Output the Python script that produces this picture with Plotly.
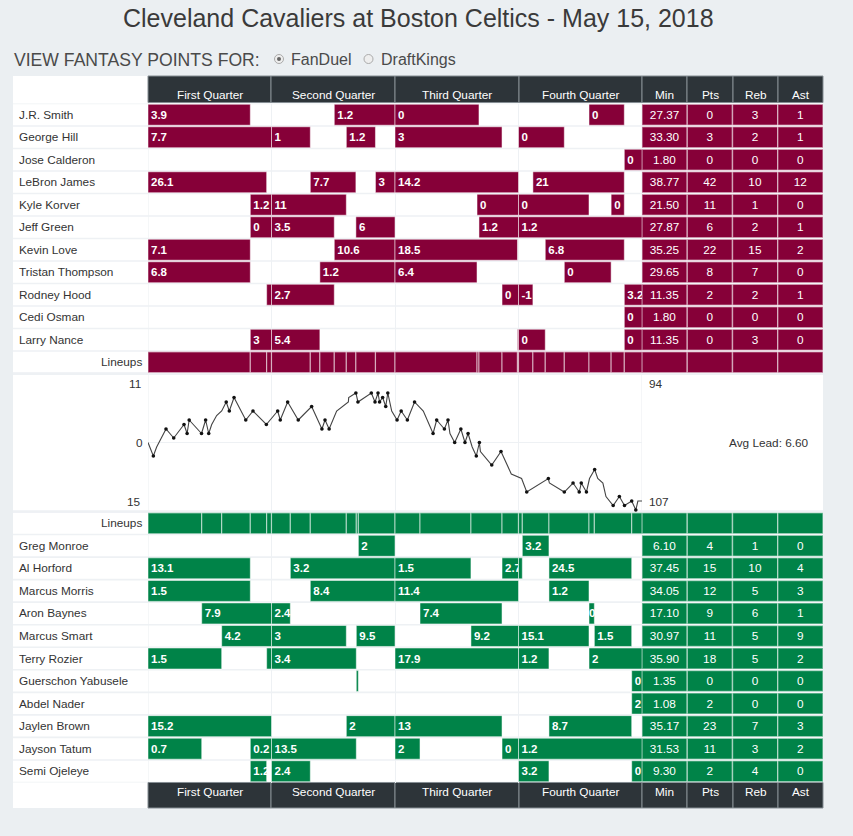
import plotly.graph_objects as go

# ---------------- data ----------------
title = "Cleveland Cavaliers at Boston Celtics - May 15, 2018"
quarters = ["First Quarter", "Second Quarter", "Third Quarter", "Fourth Quarter"]
stat_cols = ["Min", "Pts", "Reb", "Ast"]

cavs_names = ["J.R. Smith", "George Hill", "Jose Calderon", "LeBron James", "Kyle Korver",
              "Jeff Green", "Kevin Love", "Tristan Thompson", "Rodney Hood", "Cedi Osman",
              "Larry Nance"]
# (start minute, end minute, fantasy points label)
cavs_stints = [
    [(0, 9.94, "3.9"), (18.10, 24, "1.2"), (24, 32.16, "0"), (42.85, 46.28, "0")],
    [(0, 12, "7.7"), (12, 15.77, "1"), (19.27, 22.10, "1.2"), (24, 34.40, "3"), (36, 40.45, "0")],
    [(46.28, 48, "0")],
    [(0, 11.53, "26.1"), (15.77, 20.20, "7.7"), (22.10, 24, "3"), (24, 36, "14.2"), (37.40, 46.28, "21")],
    [(9.94, 12, "1.2"), (12, 19.27, "11"), (31.97, 36, "0"), (36, 42.85, "0"), (45.00, 46.28, "0")],
    [(9.94, 12, "0"), (12, 18.10, "3.5"), (20.20, 24, "6"), (32.16, 36, "1.2"), (36, 48, "1.2")],
    [(0, 9.94, "7.1"), (18.10, 24, "10.6"), (24, 35.90, "18.5"), (38.60, 46.28, "6.8")],
    [(0, 9.94, "6.8"), (16.70, 24, "1.2"), (24, 31.97, "6.4"), (40.45, 45.00, "0")],
    [(11.53, 12, ""), (12, 18.10, "2.7"), (34.40, 36, "0"), (36, 37.40, "-1"), (46.28, 48, "3.2")],
    [(46.28, 48, "0")],
    [(9.94, 12, "3"), (12, 16.70, "5.4"), (35.90, 36, ""), (36, 38.60, "0"), (46.28, 48, "0")],
]
cavs_min = [27.37, 33.30, 1.80, 38.77, 21.50, 27.87, 35.25, 29.65, 11.35, 1.80, 11.35]
cavs_pts = [0, 3, 0, 42, 11, 6, 22, 8, 2, 0, 0]
cavs_reb = [3, 2, 0, 10, 1, 2, 15, 7, 2, 0, 3]
cavs_ast = [1, 1, 0, 12, 0, 1, 2, 0, 1, 0, 0]

celtics_names = ["Greg Monroe", "Al Horford", "Marcus Morris", "Aron Baynes", "Marcus Smart",
                 "Terry Rozier", "Guerschon Yabusele", "Abdel Nader", "Jaylen Brown",
                 "Jayson Tatum", "Semi Ojeleye"]
celtics_stints = [
    [(20.44, 24, "2"), (36.37, 38.96, "3.2")],
    [(0, 9.94, "13.1"), (13.83, 24, "3.2"), (24, 31.38, "1.5"), (34.40, 36, "2.7"), (36, 36.37, ""), (38.96, 47.00, "24.5")],
    [(0, 9.94, "1.5"), (15.77, 24, "8.4"), (24, 36, "11.4"), (38.96, 42.85, "1.2")],
    [(5.22, 12, "7.9"), (12, 13.83, "2.4"), (26.43, 34.40, "7.4"), (42.85, 43.37, "0")],
    [(7.16, 12, "4.2"), (12, 19.27, "3"), (20.24, 24, "9.5"), (31.38, 36, "9.2"), (36, 42.85, "15.1"), (43.37, 47.00, "1.5")],
    [(0, 7.16, "1.5"), (11.53, 12, ""), (12, 20.24, "3.4"), (24, 36, "17.9"), (36, 38.96, "1.2"), (42.85, 48, "2")],
    [(20.24, 20.44, ""), (47.00, 48, "0")],
    [(47.00, 48, "2")],
    [(0, 12, "15.2"), (19.27, 24, "2"), (24, 34.40, "13"), (38.96, 47.00, "8.7")],
    [(0, 5.22, "0.7"), (9.94, 12, "0.2"), (12, 20.24, "13.5"), (24, 26.43, "2"), (34.40, 36, "0"), (36, 48, "1.2")],
    [(9.94, 11.53, "1.2"), (12, 15.77, "2.4"), (36, 38.96, "3.2"), (47.00, 48, "0")],
]
celtics_min = [6.10, 37.45, 34.05, 17.10, 30.97, 35.90, 1.35, 1.08, 35.17, 31.53, 9.30]
celtics_pts = [4, 15, 12, 9, 11, 18, 0, 2, 23, 11, 2]
celtics_reb = [1, 10, 5, 6, 5, 5, 0, 0, 7, 3, 4]
celtics_ast = [0, 4, 3, 1, 9, 2, 0, 0, 3, 2, 0]

# Cavaliers lead over the game (minutes, lead, scoring dot shown)
lead_min = [0, 0.52, 0.84, 1.26, 1.75, 2.5, 3.5, 3.8, 4.0, 5.2, 5.6, 5.9, 6.19, 6.67, 7.16, 7.6, 7.9,
            8.36, 9.5, 10.2, 11.5, 12.6, 12.85, 13.57, 14.6, 15.9, 16.9, 17.2, 17.6, 18.33, 19.47,
            19.5, 20.2, 20.4, 21.7, 22.06, 22.35, 22.5, 22.8, 23.1, 23.3, 23.68, 24.2, 24.6, 25.2,
            25.9, 26.75, 27.7, 28.05, 28.8, 29.15, 29.34, 29.8, 30.4, 30.8, 31.1, 31.5, 31.9, 32.2,
            32.3, 33.4, 34.3, 35.3, 36.3, 36.8, 38.9, 39.0, 40.45, 41.3, 41.9, 42.1, 42.6, 42.9,
            43.4, 43.7, 44.2, 44.5, 45.2, 45.8, 46.3, 47.0, 47.4, 47.6, 48.0]
lead_val = [0, -3, -1, 1, 3, 1, 4, 2, 5, 2, 5, 2, 4, 6, 7, 9, 7,
            10, 5, 7, 4, 7, 5, 9, 5, 8, 3, 5, 3, 7, 9,
            10, 11, 9, 11, 9, 11, 9, 10, 8, 11, 7, 5, 7, 5,
            9, 7, 2, 5, 3, 5, 2, 0, 3, 0, 2, -1, -3, 0,
            -2, -5, -2, -7, -8, -11, -8, -9, -11, -9, -11, -9, -11, -8,
            -6, -8, -9, -12, -14, -12, -14, -13, -15, -13, -13]
lead_dot = [0, 1, 0, 0, 1, 1, 1, 1, 1, 1, 1, 1, 0, 0, 0, 1, 1,
            1, 1, 1, 1, 1, 1, 1, 1, 1, 1, 1, 1, 0, 0,
            0, 1, 1, 1, 1, 1, 1, 1, 1, 1, 0, 1, 1, 1,
            1, 0, 1, 1, 1, 1, 0, 1, 1, 1, 1, 0, 1, 1,
            0, 1, 1, 0, 0, 1, 1, 0, 1, 1, 1, 1, 1, 0,
            1, 0, 0, 0, 1, 1, 1, 1, 1, 0, 0]
cavs_score = 94
celtics_score = 107
avg_lead = 6.60

# ---------------- style ----------------
W, H = 853, 836
MAROON = "#860038"
GREEN = "#008348"
HEAD = "#2d3439"
HEAD_LINE = "#858d93"
SEP = "#eef1f4"
PAGE = "#ebeff2"
TXT = "#333333"
FONT = "Liberation Sans, Arial, sans-serif"
EDGE = "rgba(255,255,255,0.5)"


def PX(x):
    return x / W


def PY(y):
    return 1 - y / H


traces = []


def team_traces(stints, stats, row_of_player, lineup_row, color, yax):
    ys, base, length, text = [], [], [], []
    bounds = set()
    for i, st in enumerate(stints):
        for s, e, lab in st:
            ys.append(row_of_player(i))
            base.append(s)
            length.append(e - s)
            text.append(lab)
            bounds.add(s)
            bounds.add(e)
    common = dict(orientation="h", width=0.93, textposition="inside", textangle=0,
                  constraintext="none", hoverinfo="skip", cliponaxis=True, showlegend=False)
    traces.append(go.Bar(y=ys, x=length, base=base, text=text, insidetextanchor="start",
                         insidetextfont=dict(color="white", size=11.5, family=FONT, weight="bold"),
                         marker=dict(color=color, line=dict(color=EDGE, width=1)),
                         xaxis="x", yaxis=yax, **common))
    b = sorted(bounds)
    traces.append(go.Bar(y=[lineup_row] * (len(b) - 1), x=[b[k + 1] - b[k] for k in range(len(b) - 1)],
                         base=b[:-1], marker=dict(color=color, line=dict(color=EDGE, width=1.2)),
                         xaxis="x", yaxis=yax, **common))
    sy, sb, sx, stx = [], [], [], []
    mins, pts, reb, ast = stats
    for i in range(len(mins)):
        vals = [f"{mins[i]:.2f}", str(pts[i]), str(reb[i]), str(ast[i])]
        for c, v in enumerate(vals):
            sy.append(row_of_player(i)); sb.append(c); sx.append(1); stx.append(v)
    for c in range(4):
        sy.append(lineup_row); sb.append(c); sx.append(1); stx.append("")
    traces.append(go.Bar(y=sy, x=sx, base=sb, text=stx, insidetextanchor="middle",
                         insidetextfont=dict(color="white", size=11.8, family=FONT),
                         marker=dict(color=color, line=dict(color="rgba(255,255,255,0.45)", width=1.5)),
                         xaxis="x2", yaxis=yax, **common))


team_traces(cavs_stints, (cavs_min, cavs_pts, cavs_reb, cavs_ast), lambda i: i, 11, MAROON, "y")
team_traces(celtics_stints, (celtics_min, celtics_pts, celtics_reb, celtics_ast), lambda i: i + 1, 0, GREEN, "y3")

traces.append(go.Scatter(x=lead_min, y=lead_val, mode="lines", line=dict(color="#444444", width=1.1),
                         xaxis="x", yaxis="y2", hoverinfo="skip", showlegend=False))
traces.append(go.Scatter(x=[m for m, d in zip(lead_min, lead_dot) if d],
                         y=[v for v, d in zip(lead_val, lead_dot) if d],
                         mode="markers", marker=dict(color="#111111", size=3.6),
                         xaxis="x", yaxis="y2", hoverinfo="skip", showlegend=False, cliponaxis=False))

fig = go.Figure(traces)

shapes = []
annotations = []
# white panel
shapes.append(dict(type="rect", xref="paper", yref="paper", x0=PX(13), x1=PX(823), y0=PY(808), y1=PY(76),
                   fillcolor="white", line=dict(width=0), layer="below"))
# row separators
for yax in ["y", "y3"]:
    for k in range(13):
        shapes.append(dict(type="line", xref="paper", yref=yax, x0=PX(13), x1=PX(823), y0=k - 0.5, y1=k - 0.5,
                           line=dict(color=SEP, width=1.6), layer="below"))
for y0, y1 in [(372.3, 375), (510.3, 512.8)]:
    shapes.append(dict(type="rect", xref="paper", yref="paper", x0=PX(13), x1=PX(823), y0=PY(y1), y1=PY(y0),
                       fillcolor=SEP, line=dict(width=0), layer="below"))
# vertical edges of the game-time area
for xv in [0, 48]:
    shapes.append(dict(type="line", xref="x", yref="paper", x0=xv, x1=xv, y0=PY(782.5), y1=PY(103),
                       line=dict(color=SEP, width=1.2), layer="below"))

# header cells (top and bottom)
cells = [(148, 271), (271, 395), (395, 519), (519, 642), (642, 687), (687, 733), (733, 778), (778, 823)]
labels = quarters + stat_cols
for top, bot, text_y in [(76, 102.5, 94.5), (782.5, 808, 791.8)]:
    for (a, b), lab in zip(cells, labels):
        shapes.append(dict(type="rect", xref="paper", yref="paper", x0=PX(a), x1=PX(b), y0=PY(bot), y1=PY(top),
                           fillcolor=HEAD, line=dict(color=HEAD_LINE, width=1), layer="below"))
        annotations.append(dict(text=lab, xref="paper", yref="paper", x=PX((a + b) / 2), y=PY(text_y),
                                showarrow=False, xanchor="center", yanchor="middle",
                                font=dict(color="white", size=11.8, family=FONT)))

# radio buttons
for cx, sel in [(279, True), (368.5, False)]:
    r = 4.5
    shapes.append(dict(type="circle", xref="paper", yref="paper", x0=PX(cx - r), x1=PX(cx + r),
                       y0=PY(59 + r), y1=PY(59 - r), fillcolor="#eeeeee", line=dict(color="#aaaaaa", width=1)))
    if sel:
        r2 = 2
        shapes.append(dict(type="circle", xref="paper", yref="paper", x0=PX(cx - r2), x1=PX(cx + r2),
                           y0=PY(59 + r2), y1=PY(59 - r2), fillcolor="#666666", line=dict(width=0)))

annotations.append(dict(text=title, xref="paper", yref="paper", x=PX(418), y=PY(18), showarrow=False,
                        xanchor="center", yanchor="middle", font=dict(color="#3a3a3a", size=25, family=FONT)))
annotations.append(dict(text="VIEW FANTASY POINTS FOR:", xref="paper", yref="paper", x=PX(12), y=PY(59.5),
                        showarrow=False, xanchor="left", yanchor="middle",
                        font=dict(color="#4a4a4a", size=17.6, family=FONT)))
annotations.append(dict(text="FanDuel", xref="paper", yref="paper", x=PX(289), y=PY(59.5), showarrow=False,
                        xanchor="left", yanchor="middle", font=dict(color="#4a4a4a", size=16, family=FONT)))
annotations.append(dict(text="DraftKings", xref="paper", yref="paper", x=PX(378.5), y=PY(59.5), showarrow=False,
                        xanchor="left", yanchor="middle", font=dict(color="#4a4a4a", size=16, family=FONT)))

# player names
name_font = dict(color=TXT, size=11.8, family=FONT)
for i, n in enumerate(cavs_names):
    annotations.append(dict(text=n, xref="paper", yref="y", x=PX(17), y=i, showarrow=False, xanchor="left",
                            yanchor="middle", font=name_font))
for i, n in enumerate(celtics_names):
    annotations.append(dict(text=n, xref="paper", yref="y3", x=PX(17), y=i + 1, showarrow=False, xanchor="left",
                            yanchor="middle", font=name_font))
annotations.append(dict(text="Lineups", xref="paper", yref="y", x=PX(144), y=11, showarrow=False,
                        xanchor="right", yanchor="middle", font=name_font))
annotations.append(dict(text="Lineups", xref="paper", yref="y3", x=PX(144), y=0, showarrow=False,
                        xanchor="right", yanchor="middle", font=name_font))

# lead chart labels
lab_font = dict(color=TXT, size=11.8, family=FONT)
annotations += [
    dict(text=str(max(lead_val)), xref="paper", yref="y2", x=PX(143), y=13, showarrow=False, xanchor="right", font=lab_font),
    dict(text="0", xref="paper", yref="y2", x=PX(145), y=0, showarrow=False, xanchor="right", font=lab_font),
    dict(text=str(-min(lead_val)), xref="paper", yref="y2", x=PX(143), y=-13.2, showarrow=False, xanchor="right", font=lab_font),
    dict(text=str(cavs_score), xref="paper", yref="y2", x=PX(647), y=13, showarrow=False, xanchor="left", font=lab_font),
    dict(text=str(celtics_score), xref="paper", yref="y2", x=PX(647), y=-13.2, showarrow=False, xanchor="left", font=lab_font),
    dict(text=f"Avg Lead: {avg_lead:.2f}", xref="paper", yref="y2", x=PX(811), y=0, showarrow=False, xanchor="right", font=lab_font),
]

hidden = dict(showticklabels=False, ticks="", showline=False, zeroline=False, fixedrange=True)
fig.update_layout(
    width=W, height=H, autosize=False,
    margin=dict(l=0, r=0, t=0, b=0, pad=0),
    paper_bgcolor=PAGE, plot_bgcolor="rgba(0,0,0,0)",
    barmode="overlay", showlegend=False, hovermode=False,
    font=dict(family=FONT, color=TXT),
    xaxis=dict(domain=[PX(148), PX(642)], range=[0, 48], anchor="y", tickvals=[12, 24, 36],
               showgrid=True, gridcolor=SEP, gridwidth=1.2, **hidden),
    xaxis2=dict(domain=[PX(642), PX(823)], range=[0, 4], anchor="y", showgrid=False, **hidden),
    yaxis=dict(domain=[PY(373.5), PY(103.5)], range=[11.5, -0.5], anchor="x", showgrid=False, **hidden),
    yaxis2=dict(domain=[PY(511), PY(374)], range=[-15.22, 15.22], anchor="x", tickvals=[0],
                showgrid=True, gridcolor=SEP, gridwidth=1.2, **hidden),
    yaxis3=dict(domain=[PY(782.5), PY(512)], range=[11.5, -0.5], anchor="x", showgrid=False, **hidden),
    shapes=shapes, annotations=annotations,
)

fig.write_html("out.html", config={"displayModeBar": False},
               post_script="document.body.style.margin='0';document.body.style.overflow='hidden';")
